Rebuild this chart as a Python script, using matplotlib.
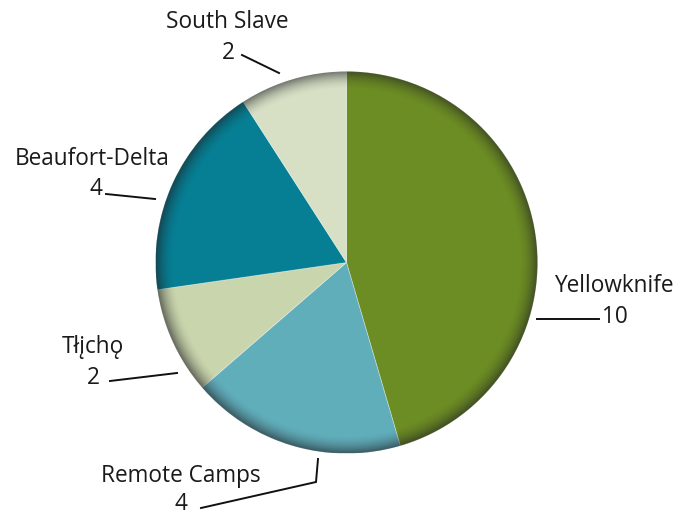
import numpy as np
import matplotlib
matplotlib.use("Agg")
import matplotlib.pyplot as plt
from matplotlib.patches import Circle

# ---- data ----
regions = ["Yellowknife", "Remote Camps", "Tłįchǫ", "Beaufort-Delta", "South Slave"]
counts = [10, 4, 2, 4, 2]
colors = ["#6c8c24", "#61aebb", "#c9d5ac", "#067f94", "#d7e0c5"]

plt.rcParams['font.family'] = ['Open Sans', 'DejaVu Sans']

W, H = 680, 515
fig = plt.figure(figsize=(W / 100, H / 100), dpi=100)
ax = fig.add_axes([0, 0, 1, 1])

def Y(y):  # image-style y to data y
    return H - y

cx, cy, R = 346.5, Y(262.5), 191

wedges, _ = ax.pie(counts, colors=colors, startangle=90, counterclock=False,
                   center=(cx, cy), radius=R, frame=True,
                   wedgeprops=dict(linewidth=0.6, edgecolor=(1, 1, 1, 0.35)))

# inner rim shading
n = 400
xs = np.linspace(cx - R, cx + R, n)
ys = np.linspace(cy - R, cy + R, n)
XX, YY = np.meshgrid(xs, ys)
d = np.hypot(XX - cx, YY - cy)
band = 18.0
t = np.clip((d - (R - band)) / band, 0, 1)
alpha = 0.55 * t ** 1.8
rgba = np.zeros((n, n, 4))
rgba[..., 0] = 0.12
rgba[..., 1] = 0.12
rgba[..., 2] = 0.14
rgba[..., 3] = alpha
im = ax.imshow(rgba, extent=(cx - R, cx + R, cy - R, cy + R), origin='lower',
               interpolation='bilinear', zorder=3)
clip = Circle((cx, cy), R, transform=ax.transData)
im.set_clip_path(clip)

ax.set_xlim(0, W)
ax.set_ylim(0, H)
ax.set_aspect('equal')
ax.axis('off')

# labels
fs = 16.3
tc = "#1a1a1a"
labels = {
    "Yellowknife": ((614, 292), (615, 323)),
    "Remote Camps": ((181, 482), (181, 510)),
    "Tłįchǫ": ((93, 353), (93, 384)),
    "Beaufort-Delta": ((92, 165), (96, 195)),
    "South Slave": ((227, 28), (228, 59)),
}
for name, c in zip(regions, counts):
    (lx, ly), (vx, vy) = labels[name]
    ax.text(lx, Y(ly), name, ha='center', va='baseline', fontsize=fs, color=tc)
    ax.text(vx, Y(vy), str(c), ha='center', va='baseline', fontsize=fs, color=tc)

leaders = [
    [(537, 319), (599, 319)],
    [(201, 508), (316, 482), (318, 459)],
    [(110, 381), (177, 373)],
    [(106, 194), (155, 199)],
    [(242, 55), (279, 73)],
]
for pts in leaders:
    ax.plot([p[0] for p in pts], [Y(p[1]) for p in pts], color="#111111", lw=1.4,
            solid_joinstyle='miter', zorder=4)

fig.savefig("out.png", dpi=100)
